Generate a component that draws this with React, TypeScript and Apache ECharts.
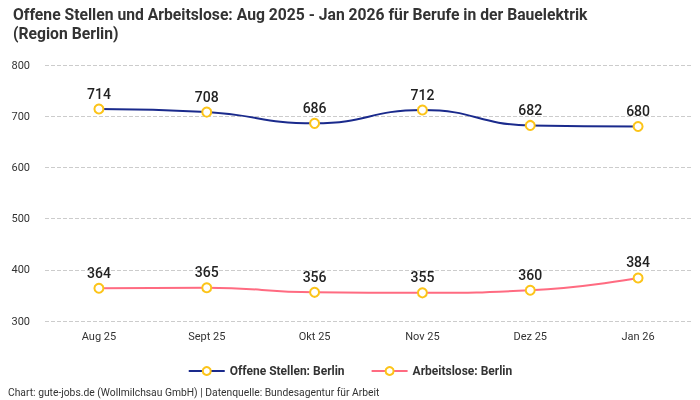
import * as echarts from "echarts";
import { useEffect, useRef } from "react";

const months = ["Aug 25", "Sept 25", "Okt 25", "Nov 25", "Dez 25", "Jan 26"];
const offeneStellen = [714, 708, 686, 712, 682, 680];
const arbeitslose = [364, 365, 356, 355, 360, 384];

const FONT = "Roboto, sans-serif";
const YELLOW = "#fcc419";
const NAVY = "#1a2a8c";
const PINK = "#ff6b81";

function makeSeries(name: string, data: number[], color: string) {
  return {
    name,
    type: "line",
    data,
    smooth: true,
    symbol: "circle",
    symbolSize: 9,
    itemStyle: { color: "#fff", borderColor: YELLOW, borderWidth: 2 },
    lineStyle: { color, width: 2 },
    label: {
      show: true,
      position: "top",
      distance: 3,
      color: "#222",
      fontSize: 14,
      fontWeight: 500,
      fontFamily: FONT,
    },
  };
}

export default function App() {
  const ref = useRef<HTMLDivElement>(null);

  useEffect(() => {
    if (!ref.current) return;
    const chart = echarts.init(ref.current, null, { renderer: "svg" });
    chart.setOption({
      animation: false,
      textStyle: { fontFamily: FONT },
      title: {
        text: "Offene Stellen und Arbeitslose: Aug 2025 - Jan 2026 für Berufe in der Bauelektrik\n(Region Berlin)",
        left: 8,
        top: 0,
        textStyle: {
          fontSize: 15.7,
          fontWeight: "bold",
          color: "#333",
          lineHeight: 19,
          fontFamily: FONT,
        },
      },
      legend: {
        bottom: 18,
        left: "center",
        itemGap: 26,
        itemWidth: 36,
        itemHeight: 10,
        textStyle: { fontSize: 12, fontWeight: "bold", color: "#333", fontFamily: FONT },
        data: [
          { name: "Offene Stellen: Berlin", itemStyle: { color: "#fff", borderColor: YELLOW, borderWidth: 2 }, lineStyle: { color: NAVY } },
          { name: "Arbeitslose: Berlin", itemStyle: { color: "#fff", borderColor: YELLOW, borderWidth: 2 }, lineStyle: { color: PINK } },
        ],
      },
      graphic: [
        {
          type: "text",
          left: 8,
          top: 387,
          style: {
            text: "Chart: gute-jobs.de (Wollmilchsau GmbH) | Datenquelle: Bundesagentur für Arbeit",
            fontSize: 10.3,
            fill: "#333",
            fontFamily: FONT,
          },
        },
      ],
      grid: { left: 45, right: 8, top: 65, bottom: 79 },
      xAxis: {
        type: "category",
        data: months,
        boundaryGap: true,
        axisLine: { show: false },
        axisTick: { show: false },
        axisLabel: { color: "#333", fontSize: 11, margin: 10, fontFamily: FONT },
      },
      yAxis: {
        type: "value",
        min: 300,
        max: 800,
        interval: 100,
        axisLine: { show: false },
        axisTick: { show: false },
        axisLabel: { color: "#333", fontSize: 11, margin: 15, fontFamily: FONT },
        splitLine: { lineStyle: { color: "#ccc", type: "dashed" } },
      },
      series: [
        makeSeries("Offene Stellen: Berlin", offeneStellen, NAVY),
        makeSeries("Arbeitslose: Berlin", arbeitslose, PINK),
      ],
    });
    return () => chart.dispose();
  }, []);

  return (
    <div
      ref={ref}
      style={{ position: "fixed", left: 0, top: 0, width: 700, height: 400 }}
    />
  );
}
